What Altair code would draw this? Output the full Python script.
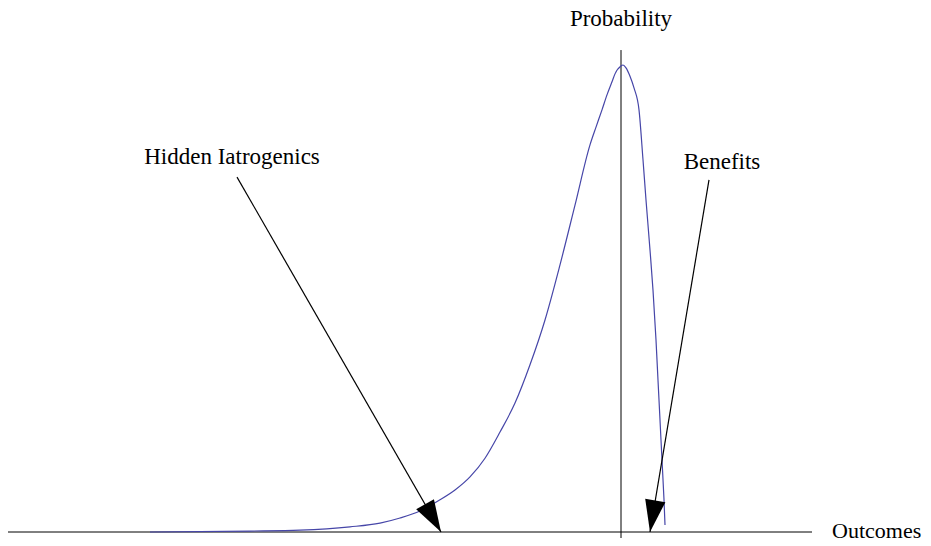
import altair as alt
import pandas as pd
import numpy as np

# Curve (outcome units: vertical axis at 0; probability scaled so peak = 1)
curve_x = [-9.42, -7.42, -6.42, -5.42, -4.82, -4.42, -4.02, -3.62, -3.32, -3.02,
           -2.72, -2.42, -2.12, -1.82, -1.52, -1.22, -0.92, -0.62, -0.50, -0.38,
           -0.28, -0.18, -0.12, 0.0, 0.04, 0.10, 0.18, 0.26, 0.36, 0.44,
           0.50, 0.58, 0.64, 0.70, 0.74, 0.78, 0.82, 0.86, 0.88]
curve_y = [0.0, 0.002, 0.004, 0.011, 0.019, 0.030, 0.045, 0.069, 0.090, 0.118,
           0.158, 0.214, 0.276, 0.358, 0.454, 0.572, 0.700, 0.829, 0.867, 0.904,
           0.936, 0.964, 0.981, 0.998, 1.0, 0.994, 0.976, 0.951, 0.904, 0.797,
           0.711, 0.604, 0.518, 0.411, 0.325, 0.240, 0.154, 0.069, 0.015]

# Annotations
labels = ["Hidden Iatrogenics", "Benefits"]
label_x = [-7.78, 2.02]
label_y = [0.787, 0.778]
arrow_x1 = [-7.68, 1.76]
arrow_y1 = [0.760, 0.754]
arrow_x2 = [-3.60, 0.58]
arrow_y2 = [0.0, 0.0]

axis_titles = ["Probability", "Outcomes"]
title_x = [0.0, 4.22]
title_y = [1.084, -0.0118]
title_size = [23, 22]

XDOM = [-12.26, 6.04]
YDOM = [-0.012848, 1.12206]
W, H = 915, 530
PX_X = W / (XDOM[1] - XDOM[0])
PX_Y = H / (YDOM[1] - YDOM[0])

xs = alt.Scale(domain=XDOM, nice=False, zero=False)
ys = alt.Scale(domain=YDOM, nice=False, zero=False)

FONT = "Liberation Serif"
FS = 23

curve_df = pd.DataFrame({"x": curve_x, "y": curve_y})
arrows_df = pd.DataFrame({
    "label": labels, "lx": label_x, "ly": label_y,
    "x1": arrow_x1, "y1": arrow_y1, "x2": arrow_x2, "y2": arrow_y2,
})
dxp = (arrows_df["x2"] - arrows_df["x1"]) * PX_X
dyp = (arrows_df["y1"] - arrows_df["y2"]) * PX_Y
arrows_df["angle"] = (-np.degrees(np.arctan2(dxp, dyp))) % 360

titles_df = pd.DataFrame({"t": axis_titles, "x": title_x, "y": title_y, "fs": title_size})

axes_df = pd.DataFrame({
    "x1": [-12.26, 0.0], "y1": [0.0, 1.032],
    "x2": [3.82, 0.0], "y2": [0.0, -0.03],
})

axes = alt.Chart(axes_df).mark_rule(color="black", strokeWidth=1, clip=False).encode(
    x=alt.X("x1:Q", scale=xs, axis=None),
    y=alt.Y("y1:Q", scale=ys, axis=None),
    x2="x2:Q", y2="y2:Q",
)

curve = alt.Chart(curve_df).mark_line(
    color="#4646a8", strokeWidth=1.2, interpolate="monotone"
).encode(
    x=alt.X("x:Q", scale=xs, axis=None),
    y=alt.Y("y:Q", scale=ys, axis=None),
    order="x:Q",
)

arrow_lines = alt.Chart(arrows_df).mark_rule(color="black", strokeWidth=1.2).encode(
    x=alt.X("x1:Q", scale=xs, axis=None),
    y=alt.Y("y1:Q", scale=ys, axis=None),
    x2="x2:Q", y2="y2:Q",
)

heads = alt.Chart(arrows_df).mark_point(
    shape="M0,0 L-0.32,-1 L0.32,-1 Z", filled=True, color="black", opacity=1, size=4096,
    strokeWidth=0,
).encode(
    x=alt.X("x2:Q", scale=xs, axis=None),
    y=alt.Y("y2:Q", scale=ys, axis=None),
    angle=alt.Angle("angle:Q", scale=None),
)

label_text = alt.Chart(arrows_df).mark_text(
    font=FONT, fontSize=FS, color="black", align="center", baseline="alphabetic",
).encode(
    x=alt.X("lx:Q", scale=xs, axis=None),
    y=alt.Y("ly:Q", scale=ys, axis=None),
    text="label:N",
)

title_center = alt.Chart(titles_df.iloc[[0]]).mark_text(
    font=FONT, fontSize=title_size[0], color="black", align="center", baseline="alphabetic",
).encode(
    x=alt.X("x:Q", scale=xs, axis=None),
    y=alt.Y("y:Q", scale=ys, axis=None),
    text="t:N",
)
title_left = alt.Chart(titles_df.iloc[[1]]).mark_text(
    font=FONT, fontSize=title_size[1], color="black", align="left", baseline="alphabetic",
).encode(
    x=alt.X("x:Q", scale=xs, axis=None),
    y=alt.Y("y:Q", scale=ys, axis=None),
    text="t:N",
)

chart = alt.layer(axes, curve, arrow_lines, heads, label_text, title_center, title_left).properties(
    width=W, height=H, padding=0, autosize=alt.AutoSizeParams(type="none"),
).configure_view(stroke=None)

chart.save("out.html", embed_options={"renderer": "svg", "actions": False})
